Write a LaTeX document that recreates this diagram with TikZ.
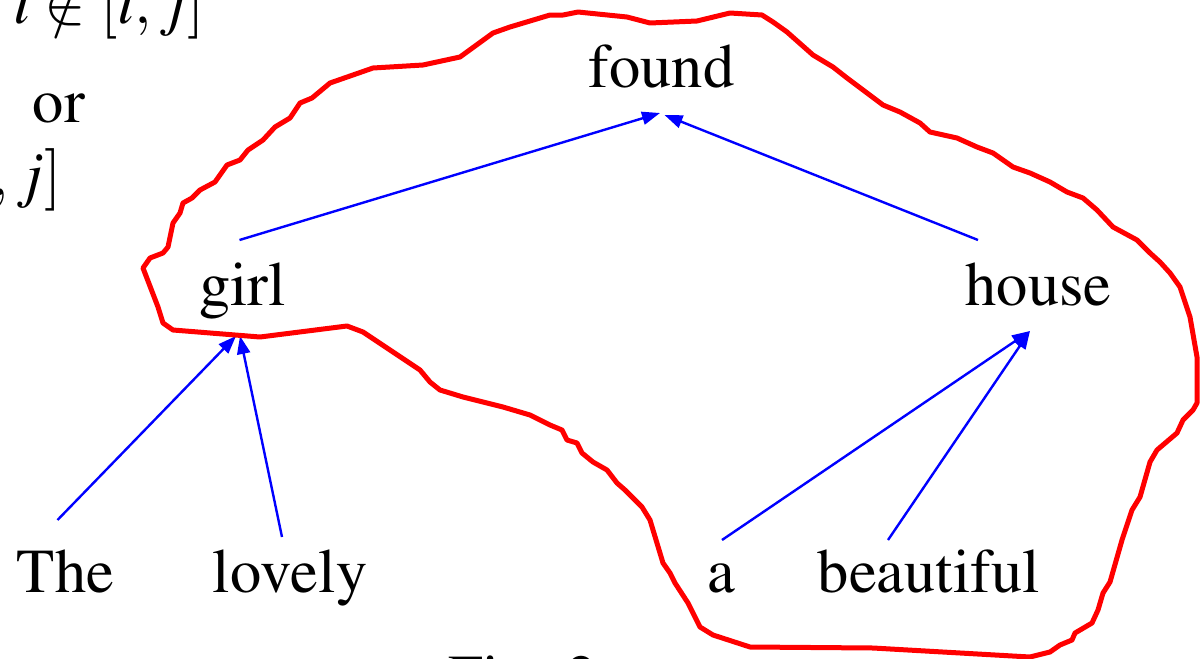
\documentclass[tikz,border=0pt]{standalone}
\usepackage[T1]{fontenc}
\usepackage{mathptmx}
\usetikzlibrary{arrows.meta}

\begin{document}
\begin{tikzpicture}[
    x=1pt, y=-1pt,
    word/.style={font=\fontsize{62.5}{75}\selectfont, inner sep=0pt, anchor=base},
    dep/.style={-{Triangle[length=18pt, width=13pt]}, draw=blue, line width=2.4pt},
    span/.style={draw=red, line width=5pt, line join=round, line cap=round}
  ]
  \useasboundingbox (0,0) rectangle (1203,659);

  % side text (cut by the page edge)
  \node[word, anchor=base east] (cond1) at (205,23) {$i \notin [i,j]$};
  \node[word] (or) at (59,122) {or};
  \node[word, anchor=base east] (cond2) at (62,195) {$[i,j]$};
  \node[word, anchor=base west] (caption) at (448,698) {Fig. 2};

  % words
  \node[word] (found) at (661.5,87) {found};
  \node[word] (girl) at (242.5,305) {girl};
  \node[word] (house) at (1038.5,305) {house};
  \node[word] (The) at (65.5,592) {The};
  \node[word] (lovely) at (290,592) {lovely};
  \node[word] (a) at (721.5,592) {a};
  \node[word] (beautiful) at (929,592) {beautiful};

  % arc ends
  \coordinate (found-in1) at ([shift={(-1.5,26)}]found.base);
  \coordinate (found-in2) at ([shift={(3,28)}]found.base);
  \coordinate (girl-out) at ([shift={(-3,-65)}]girl.base);
  \coordinate (girl-in1) at ([shift={(-6.5,31)}]girl.base);
  \coordinate (girl-in2) at ([shift={(-2.5,31)}]girl.base);
  \coordinate (house-out) at ([shift={(-60.5,-65)}]house.base);
  \coordinate (house-in) at ([shift={(-8.5,26)}]house.base);
  \coordinate (The-out) at ([shift={(-8,-72)}]The.base);
  \coordinate (lovely-out) at ([shift={(-8,-55)}]lovely.base);
  \coordinate (a-out) at ([shift={(0.5,-52)}]a.base);
  \coordinate (beautiful-out) at ([shift={(-41,-52)}]beautiful.base);

  % arcs
  \draw[dep] (girl-out) -- (found-in1);
  \draw[dep] (house-out) -- (found-in2);
  \draw[dep] (The-out) -- (girl-in1);
  \draw[dep] (lovely-out) -- (girl-in2);
  \draw[dep] (a-out) -- (house-in);
  \draw[dep] (beautiful-out) -- (house-in);

  % span outline
  \draw[span] (143,268) -- (150,258) -- (163,253) -- (168,247) -- (173,223)
    -- (180,213) -- (183,203) -- (192,198) -- (200,190) -- (215,182)
    -- (227,165) -- (240,160) -- (248,150) -- (263,140) -- (275,127)
    -- (290,118) -- (300,103) -- (312,98) -- (330,83) -- (373,68)
    -- (423,65) -- (460,57) -- (493,33) -- (510,27) -- (550,15)
    -- (563,15) -- (578,12) -- (627,17) -- (650,23) -- (697,21)
    -- (730,13) -- (762,15) -- (773,22) -- (787,32) -- (813,55)
    -- (833,67) -- (847,78) -- (867,93) -- (883,105) -- (900,112)
    -- (920,123) -- (930,132) -- (957,138) -- (977,147) -- (993,153)
    -- (1013,167) -- (1030,173) -- (1050,182) -- (1067,192) -- (1083,198)
    -- (1097,210) -- (1113,227) -- (1137,240) -- (1150,253) -- (1160,262)
    -- (1170,273) -- (1180,287) -- (1190,317) -- (1197,357) -- (1197,403)
    -- (1193,410) -- (1183,420) -- (1177,433) -- (1157,450) -- (1150,462)
    -- (1140,497) -- (1132,510) -- (1122,540) -- (1110,582) -- (1103,593)
    -- (1098,610) -- (1092,623) -- (1075,633) -- (1072,640) -- (1060,645)
    -- (1050,652) -- (1030,657) -- (873,648) -- (750,647) -- (713,635)
    -- (700,627) -- (693,613) -- (688,603) -- (675,583) -- (670,573)
    -- (663,563) -- (650,520) -- (642,507) -- (625,490) -- (617,483)
    -- (607,470) -- (593,462) -- (582,453) -- (577,443) -- (567,440)
    -- (562,430) -- (550,425) -- (530,415) -- (503,407) -- (463,397)
    -- (440,390) -- (430,382) -- (420,370) -- (363,332) -- (347,326)
    -- (260,337) -- (173,330) -- (163,323) -- (158,307) -- cycle;
\end{tikzpicture}
\end{document}
